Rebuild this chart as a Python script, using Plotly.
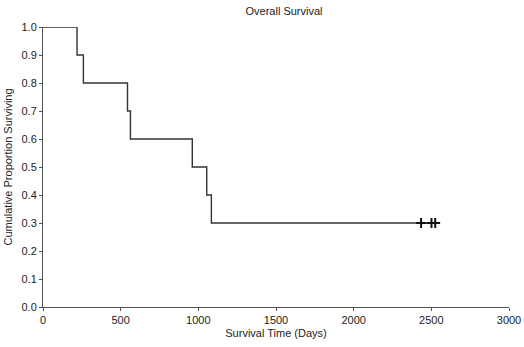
import plotly.graph_objects as go

# Kaplan-Meier step data
times = [0, 219, 260, 544, 563, 961, 1054, 1084, 2525]
survival = [1.0, 0.9, 0.8, 0.7, 0.6, 0.5, 0.4, 0.3, 0.3]
censor_times = [2434, 2501, 2525]
censor_surv = [0.3, 0.3, 0.3]

x_ticks = [0, 500, 1000, 1500, 2000, 2500, 3000]
y_ticks = [0.0, 0.1, 0.2, 0.3, 0.4, 0.5, 0.6, 0.7, 0.8, 0.9, 1.0]

font = dict(family="Liberation Sans, Arial, sans-serif", size=11, color="#222")

fig = go.Figure()
fig.add_trace(go.Scatter(x=times, y=survival, mode="lines", line_shape="hv",
                         line=dict(color="#333", width=1.4), hoverinfo="skip",
                         cliponaxis=False, showlegend=False))
fig.add_trace(go.Scatter(x=censor_times, y=censor_surv, mode="markers",
                         marker=dict(symbol="cross-thin", size=7,
                                     line=dict(color="#111", width=2)),
                         cliponaxis=False, showlegend=False))

fig.update_layout(
    width=524, height=347,
    margin=dict(l=43, r=15, t=27, b=40),
    paper_bgcolor="white", plot_bgcolor="white",
    font=font,
    title=dict(text="Overall Survival", x=271/524, xref="paper", xanchor="center",
               y=1 - 11/347, yanchor="middle", font=dict(size=11, color="#222")),
    xaxis=dict(range=[0, 3000], tickvals=x_ticks, ticktext=[str(v) for v in x_ticks],
               showgrid=False, zeroline=False, showline=True, linecolor="#555",
               linewidth=1, ticks="outside", ticklen=3, tickcolor="#555",
               title=dict(text="Survival Time (Days)", standoff=4), automargin=False),
    yaxis=dict(range=[0, 1], tickvals=y_ticks, ticktext=[f"{v:.1f}" for v in y_ticks],
               showgrid=False, zeroline=False, showline=True, linecolor="#555",
               linewidth=1, ticks="outside", ticklen=3, tickcolor="#555",
               title=dict(text="Cumulative Proportion Surviving", standoff=6),
               automargin=False),
)
fig.update_xaxes(title_font=dict(size=11, color="#222"))
fig.update_yaxes(title_font=dict(size=11, color="#222"))

fig.write_html("out.html", config={"displayModeBar": False},
               post_script="document.body.style.margin='0';document.body.style.overflow='hidden';")
